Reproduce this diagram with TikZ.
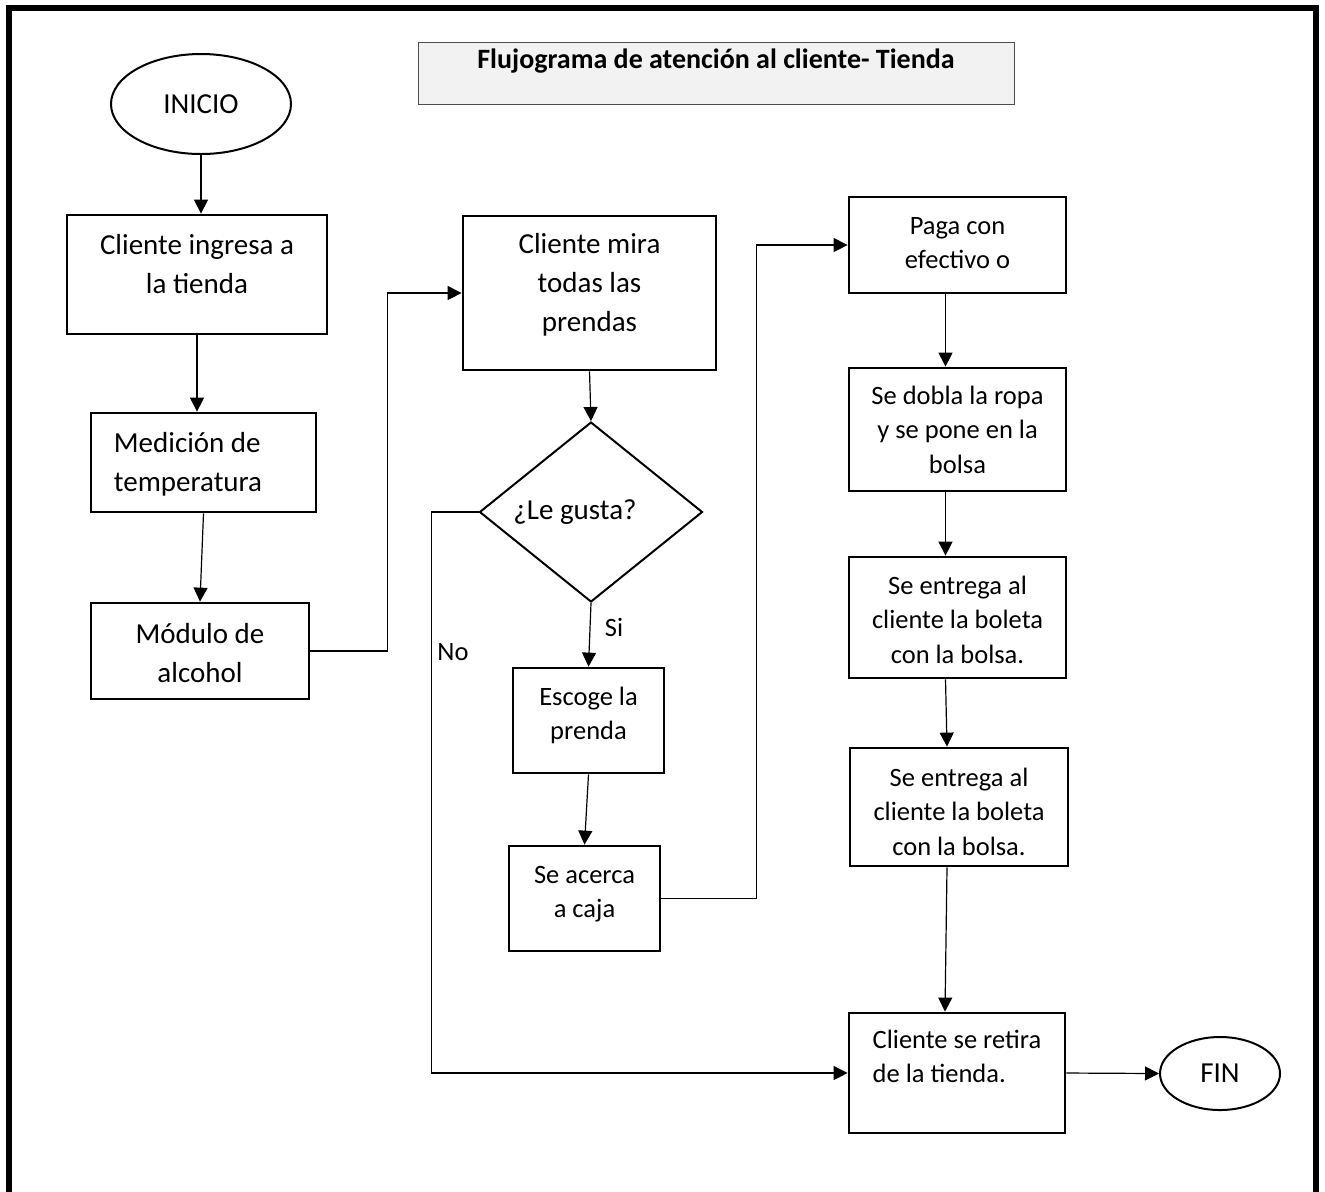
\documentclass[tikz,border=0pt]{standalone}
\usepackage{fontspec}
\setmainfont{Carlito}
\usetikzlibrary{shapes.geometric,arrows.meta,calc}

\begin{document}
\begin{tikzpicture}[x=0.5pt,y=-0.5pt,
		caja/.style={draw,rectangle,line width=1.4pt,inner sep=0pt,align=center},
		grande/.style={font=\fontsize{14.5}{19.5}\selectfont},
		chica/.style={font=\fontsize{13.25}{17.25}\selectfont},
		terminal/.style={draw,ellipse,line width=1pt,inner sep=0pt,grande},
		flecha/.style={line width=0.6pt,-{Triangle[length=7pt,width=7pt]}},
		linea/.style={line width=0.6pt}]
		\useasboundingbox (0,0) rectangle (1325,1191);

		% marco y titulo
		\draw[line width=3.25pt] (9,1200) -- (9,8) -- (1316,8) -- (1316,1200);
		\node[draw=black!70,fill=black!5,line width=0.5pt,inner sep=0pt,
			minimum width=298pt,text height=13pt,text depth=18pt,
			font=\bfseries\fontsize{14}{17}\selectfont] (titulo) at (716,73)
			{Flujograma de atención al cliente- Tienda};

		% columna izquierda
		\node[terminal,minimum width=90pt,minimum height=50pt] (inicio) at (201,104) {INICIO};
		\node[caja,grande,minimum width=130pt,text height=39pt,text depth=20.5pt]
			(ingresa) at (197,274.5) {Cliente ingresa a\\la tienda};
		\node[caja,grande,align=left,minimum width=112.5pt,text height=39pt,text depth=10.5pt]
			(medicion) at (203.5,462.5) {Medición de\\temperatura\hspace*{15.5pt}};
		\node[caja,grande,minimum width=109pt,text height=39.5pt,text depth=8.5pt]
			(alcohol) at (200,651) {Módulo de\\alcohol};

		% columna central
		\node[caja,grande,minimum width=126.5pt,text height=57.5pt,text depth=19.5pt]
			(mira) at (589.5,293) {Cliente mira\\todas las\\prendas};
		\node[diamond,draw,line width=1pt,inner sep=0pt,minimum width=111.5pt,
			minimum height=84pt,grande] (gusta) at (591,512) {¿Le gusta?\hspace*{16pt}};
		\node[caja,chica,minimum width=75.5pt,text height=35.75pt,text depth=16.75pt]
			(escoge) at (588.5,720.5) {Escoge la\\prenda};
		\node[caja,chica,minimum width=75.5pt,text height=35.75pt,text depth=16.75pt]
			(acerca) at (584.5,898.5) {Se acerca\\a caja};
		\node[chica] (si) at (614,627) {Si};
		\node[chica] (no) at (453,652) {No};

		% columna derecha
		\node[caja,chica,minimum width=108.5pt,text height=35.75pt,text depth=12.25pt]
			(paga) at (957.5,245) {Paga con\\efectivo o};
		\node[caja,chica,minimum width=108.5pt,text height=52.5pt,text depth=9pt]
			(dobla) at (957.5,429.5) {Se dobla la ropa\\y se pone en la\\bolsa};
		\node[caja,chica,minimum width=108.5pt,text height=53pt,text depth=7.5pt]
			(entrega) at (957.5,617.5) {Se entrega al\\cliente la boleta\\con la bolsa.};
		\node[caja,chica,minimum width=109pt,text height=53.5pt,text depth=5.5pt]
			(entregab) at (959,807) {Se entrega al\\cliente la boleta\\con la bolsa.};
		\node[caja,chica,align=left,minimum width=108pt,text height=34.75pt,text depth=25.25pt]
			(retira) at (957,1073) {Cliente se retira\\de la tienda.};
		\node[terminal,minimum width=60pt,minimum height=36.5pt] (fin) at (1220,1073.5) {FIN};

		% conectores
		\draw[flecha] (inicio.south) -- (inicio.south |- ingresa.north);
		\draw[flecha] (ingresa.south) -- (ingresa.south |- medicion.north);
		\draw[flecha] (medicion.south) -- (alcohol.north);
		\draw[flecha] (alcohol.east) -- ++(77,0) |- (mira.west);
		\draw[flecha] (mira.south) -- (gusta.north);
		\draw[flecha] (gusta.south) -- (escoge.north);
		\draw[flecha] (gusta.west) -- ++(-47,0) |- (retira.west);
		\draw[flecha] (escoge.south) -- (acerca.north);
		\draw[flecha] (acerca.east) -- ++(95,0) |- (paga.west);
		\draw[flecha] ([xshift=-6pt]paga.south) -- ([xshift=-6pt]dobla.north);
		\draw[flecha] ([xshift=-6pt]dobla.south) -- ([xshift=-6pt]entrega.north);
		\draw[flecha] ([xshift=-6pt]entrega.south) -- ([xshift=-6pt]entregab.north);
		\draw[flecha] ([xshift=-6pt]entregab.south) -- ([xshift=-6pt]retira.north);
		\draw[flecha] (retira.east) -- (fin.west);
	\end{tikzpicture}
\end{document}
